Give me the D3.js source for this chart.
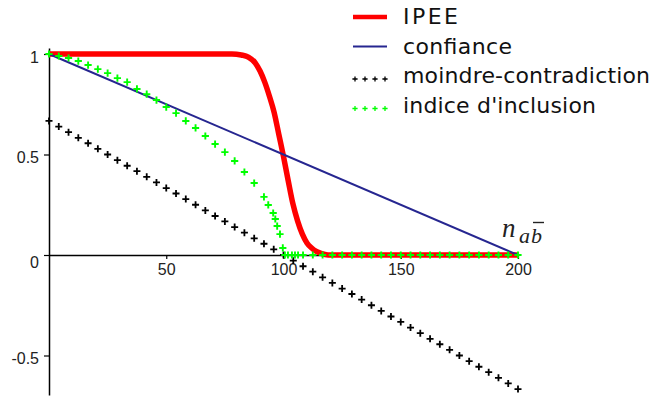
<!DOCTYPE html>
<html><head><meta charset="utf-8">
<script src="https://cdn.jsdelivr.net/npm/d3@7"></script>
<style>html,body{margin:0;padding:0;background:#fff;}svg{display:block;}</style>
</head><body>
<svg id="chart" width="655" height="401"></svg>
<script>
// ---- data ----
const xTicks = [50, 100, 150, 200];
const yTicks = [-0.5, 0, 0.5, 1];
const seriesNames = ["IPEE", "confiance", "moindre-contradiction", "indice d'inclusion"];

const ipeeN = [0, 78, 82, 85, 88, 90, 92, 94, 96, 98, 100, 102, 104, 106, 108, 110, 112, 114, 116, 119, 200];
const ipeeV = [1, 1, 0.995, 0.985, 0.955, 0.915, 0.86, 0.79, 0.71, 0.60, 0.49, 0.37, 0.255, 0.17, 0.105, 0.06, 0.035, 0.018, 0.008, 0, 0];

const confN = [0, 200];
const confV = [1, 0];

const mcN = [0, 4.17, 8.33, 12.5, 16.67, 20.83, 25, 29.17, 33.33, 37.5, 41.67, 45.83, 50, 54.17, 58.33, 62.5, 66.67, 70.83, 75, 79.17, 83.33, 87.5, 91.67, 95.83, 100, 104.17, 108.33, 112.5, 116.67, 120.83, 125, 129.17, 133.33, 137.5, 141.67, 145.83, 150, 154.17, 158.33, 162.5, 166.67, 170.83, 175, 179.17, 183.33, 187.5, 191.67, 195.83, 200];
const mcV = [0.667, 0.639, 0.611, 0.583, 0.556, 0.528, 0.5, 0.472, 0.444, 0.417, 0.389, 0.361, 0.333, 0.306, 0.278, 0.25, 0.222, 0.194, 0.167, 0.139, 0.111, 0.083, 0.056, 0.028, 0, -0.028, -0.056, -0.083, -0.111, -0.139, -0.167, -0.194, -0.222, -0.25, -0.278, -0.306, -0.333, -0.361, -0.389, -0.417, -0.444, -0.472, -0.5, -0.528, -0.556, -0.583, -0.611, -0.639, -0.667];

const inclN = [0, 4.17, 8.33, 12.5, 16.67, 20.83, 25, 29.17, 33.33, 37.5, 41.67, 45.83, 50, 54.17, 58.33, 62.5, 66.67, 70.83, 75, 79.17, 83.33, 87.5, 91.67, 93.5, 95.6, 96.5, 97.3, 98.5, 99.7, 100.6, 101.9, 103.6, 104.9, 106.2, 108.33, 112.5, 116.67, 120.83, 125, 129.17, 133.33, 137.5, 141.67, 145.83, 150, 154.17, 158.33, 162.5, 166.67, 170.83, 175, 179.17, 183.33, 187.5, 191.67, 195.83, 200];
const inclV = [1, 0.99, 0.98, 0.965, 0.945, 0.925, 0.905, 0.88, 0.86, 0.826, 0.80, 0.771, 0.736, 0.706, 0.667, 0.632, 0.592, 0.552, 0.512, 0.468, 0.413, 0.358, 0.289, 0.249, 0.209, 0.179, 0.144, 0.104, 0.035, 0, 0, 0, 0, 0, 0, 0, 0, 0, 0, 0, 0, 0, 0, 0, 0, 0, 0, 0, 0, 0, 0, 0, 0, 0, 0, 0, 0];

// ---- drawing ----
const svg = d3.select("#chart");
svg.append("rect").attr("width", 655).attr("height", 401).attr("fill", "#fff");

const x = d3.scaleLinear().domain([0, 200]).range([49, 518]);
const y = d3.scaleLinear().domain([-0.5, 1]).range([355.5, 54]);
const yAxisScale = d3.scaleLinear().domain([-0.697, 1.03]).range([y(-0.697), y(1.03)]);

const font = "'Liberation Sans', Arial, sans-serif";
const legFont = "'DejaVu Sans', Verdana, sans-serif";

// y axis
const gy = svg.append("g").attr("transform", `translate(${x(0)},0)`)
  .call(d3.axisLeft(yAxisScale).tickValues(yTicks).tickSize(5).tickSizeOuter(0).tickFormat(d => String(d)));
gy.select(".domain").attr("stroke", "#000").attr("stroke-width", 1.5);
gy.selectAll(".tick line").attr("stroke", "#000").attr("stroke-width", 1.2);
gy.selectAll(".tick text").attr("font-family", font).attr("font-size", 16).attr("fill", "#222")
  .attr("x", -10).attr("dy", d => d === 0 ? "0.8em" : "0.5em");

// x axis
const gx = svg.append("g").attr("transform", `translate(0,${y(0)})`)
  .call(d3.axisBottom(x).tickValues(xTicks).tickSize(4).tickSizeOuter(0));
gx.select(".domain").attr("stroke", "#000").attr("stroke-width", 1.5);
gx.selectAll(".tick line").attr("stroke", "#000").attr("stroke-width", 1.2);
gx.selectAll(".tick text").attr("font-family", font).attr("font-size", 16).attr("fill", "#222")
  .attr("y", 9).attr("dy", "0.71em");

// axis label n_{a b-bar}
const lab = svg.append("g").attr("fill", "#222").attr("font-family", "'Liberation Serif', 'Times New Roman', serif").attr("font-style", "italic");
lab.append("text").attr("x", 502).attr("y", 237).attr("font-size", 27).text("n");
lab.append("text").attr("x", 519).attr("y", 243).attr("font-size", 22).text("a");
lab.append("text").attr("x", 531).attr("y", 243).attr("font-size", 22).text("b");
lab.append("line").attr("x1", 533).attr("x2", 544).attr("y1", 222.5).attr("y2", 222.5).attr("stroke", "#222").attr("stroke-width", 1.4);

const pts = (N, V) => N.map((n, i) => [n, V[i]]);
const line = d3.line().x(d => x(d[0])).y(d => y(d[1]));
const plusPath = r => `M${-r},0H${r}M0,${-r}V${r}`;

// IPEE
svg.append("path").datum(pts(ipeeN, ipeeV))
  .attr("d", line.curve(d3.curveMonotoneX)).attr("fill", "none").attr("stroke", "#ff0000")
  .attr("stroke-width", 5.5).attr("stroke-linejoin", "round");
// confiance
svg.append("path").datum(pts(confN, confV))
  .attr("d", d3.line().x(d => x(d[0])).y(d => y(d[1]))).attr("fill", "none").attr("stroke", "#262690").attr("stroke-width", 2);
// moindre-contradiction
svg.append("g").selectAll("path").data(pts(mcN, mcV)).join("path")
  .attr("transform", d => `translate(${x(d[0])},${y(d[1])})`)
  .attr("d", plusPath(3.5)).attr("stroke", "#000").attr("stroke-width", 1.8).attr("fill", "none");
// indice d'inclusion
svg.append("g").selectAll("path").data(pts(inclN, inclV)).join("path")
  .attr("transform", d => `translate(${x(d[0])},${y(d[1])})`)
  .attr("d", plusPath(3.6)).attr("stroke", "#00ff00").attr("stroke-width", 1.9).attr("fill", "none");

// legend
const legY = [17, 46.5, 76, 105.5];
const legW = [55, 109, 247, 193];
const leg = svg.append("g");
seriesNames.forEach((name, i) => {
  leg.append("text").attr("x", 403).attr("y", legY[i] + 7).attr("font-family", legFont).attr("font-size", 22)
    .attr("fill", "#111").attr("textLength", legW[i]).attr("lengthAdjust", "spacing").text(name);
});
leg.append("line").attr("x1", 353).attr("x2", 387).attr("y1", legY[0]).attr("y2", legY[0]).attr("stroke", "#ff0000").attr("stroke-width", 4.5);
leg.append("line").attr("x1", 353).attr("x2", 387).attr("y1", legY[1]).attr("y2", legY[1]).attr("stroke", "#262690").attr("stroke-width", 2);
[355, 365, 375, 385].forEach(px => {
  leg.append("path").attr("transform", `translate(${px},${legY[2] + 3})`).attr("d", plusPath(2.6)).attr("stroke", "#000").attr("stroke-width", 1.3);
  leg.append("path").attr("transform", `translate(${px},${legY[3] + 3})`).attr("d", plusPath(2.6)).attr("stroke", "#00ff00").attr("stroke-width", 1.3);
});
</script>
</body></html>
